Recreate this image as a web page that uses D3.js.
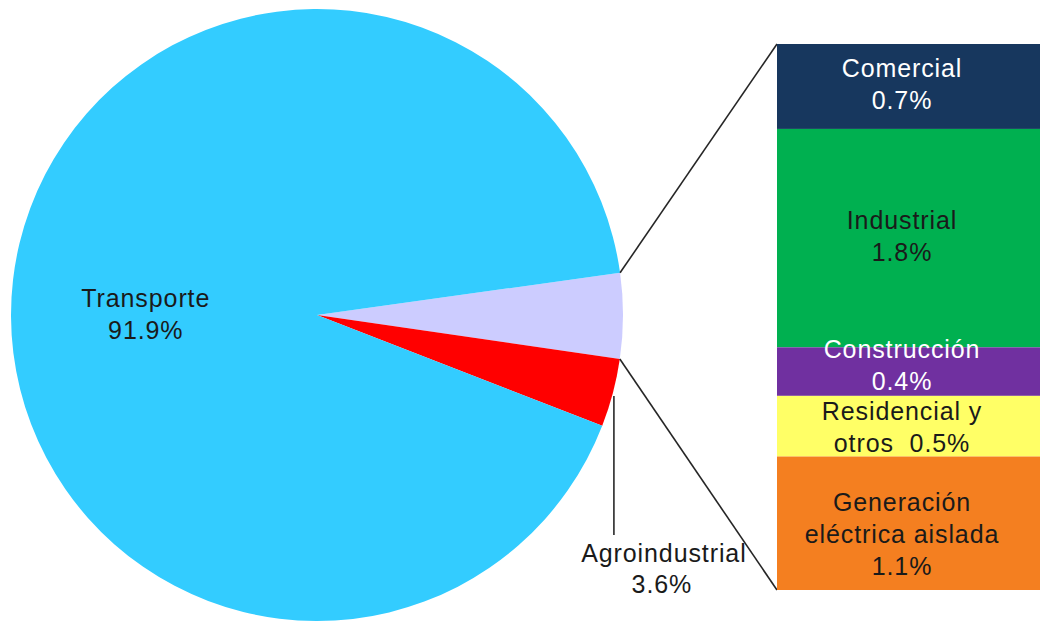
<!DOCTYPE html>
<html>
<head>
<meta charset="utf-8">
<script src="https://cdn.jsdelivr.net/npm/d3@7"></script>
<style>
  html, body { margin: 0; padding: 0; background: #fff; }
  svg { display: block; font-family: "Liberation Sans", Arial, sans-serif; }
  svg text { white-space: pre; letter-spacing: 0.9px; }
</style>
</head>
<body>
<svg id="chart" width="1040" height="621"></svg>
<script>
// Main pie: shares of total consumption (%)
const pieCategories = ["Otros sectores", "Agroindustrial", "Transporte"];
const transporteValue = 91.9;
const agroValue = 3.6;

// Breakdown of the "other sectors" wedge, shown as a stacked bar
const barCategories = ["Comercial", "Industrial", "Construcción", "Residencial y otros", "Generación eléctrica aislada"];
const barValues = [0.7, 1.8, 0.4, 0.5, 1.1];
const barLabelLines = [
  ["Comercial", "0.7%"],
  ["Industrial", "1.8%"],
  ["Construcción", "0.4%"],
  ["Residencial y", "otros  0.5%"],
  ["Generación", "eléctrica aislada", "1.1%"]
];
const barColors = ["#17375E", "#00B050", "#7030A0", "#FFFF66", "#F47F20"];
const barTextColors = ["#ffffff", "#1a1a1a", "#ffffff", "#1a1a1a", "#1a1a1a"];

const otherValue = d3.sum(barValues);
const pieValues = [otherValue, agroValue, transporteValue];
const pieColors = ["#CCCCFF", "#FF0000", "#33CCFF"];

const svg = d3.select("#chart");
const FS = 25;

// ---- pie ----
const cx = 317, cy = 315, radius = 306;
const startDeg = 82.07;
const pie = d3.pie().sort(null).value(d => d)
  .startAngle(startDeg * Math.PI / 180)
  .endAngle((startDeg + 360) * Math.PI / 180);
const arcs = pie(pieValues);
const arc = d3.arc().innerRadius(0).outerRadius(radius);

const gPie = svg.append("g").attr("transform", `translate(${cx},${cy})`);
gPie.selectAll("path").data(arcs).join("path")
  .attr("d", arc)
  .attr("fill", (d, i) => pieColors[i]);

const pt = (a, r) => [cx + r * Math.sin(a), cy - r * Math.cos(a)];

// Transporte label near the wedge's centroid
const labelArc = d3.arc().innerRadius(radius * 0.56).outerRadius(radius * 0.56);
const tc = labelArc.centroid(arcs[2]);
const tLabel = svg.append("text")
  .attr("text-anchor", "middle").attr("font-size", FS).attr("fill", "#1a1a1a");
["Transporte", transporteValue.toFixed(1) + "%"].forEach((s, i) => {
  tLabel.append("tspan").attr("x", cx + tc[0] - 1).attr("y", cy + tc[1] + 12 + i * 32).text(s);
});

// Agroindustrial leader + label
const agroMid = (arcs[1].startAngle + arcs[1].endAngle) / 2;
const leaderX = pt(agroMid, radius)[0] + 1;
svg.append("line")
  .attr("x1", leaderX).attr("x2", leaderX)
  .attr("y1", 396).attr("y2", 535)
  .attr("stroke", "#1a1a1a").attr("stroke-width", 1.5);
const aLabel = svg.append("text")
  .attr("text-anchor", "middle").attr("font-size", FS).attr("fill", "#1a1a1a");
["Agroindustrial", agroValue.toFixed(1) + "%"].forEach((s, i) => {
  aLabel.append("tspan").attr("x", leaderX + 50 - i * 2).attr("y", 562 + i * 31).text(s);
});

// ---- stacked bar ----
const barX = 777, barW = 263, barTop = 44, barBottom = 590;
const y = d3.scaleLinear().domain([0, otherValue]).range([barTop, barBottom]);
const cum = [];
barValues.reduce((acc, v, i) => { cum.push([acc, acc + v]); return acc + v; }, 0);

// connector lines from the wedge edges to the bar's corners
const pTop = pt(arcs[0].startAngle, radius);
const pBot = pt(arcs[0].endAngle, radius);
svg.append("line")
  .attr("x1", pTop[0]).attr("y1", pTop[1])
  .attr("x2", barX).attr("y2", y(0))
  .attr("stroke", "#262626").attr("stroke-width", 1.6);
svg.append("line")
  .attr("x1", pBot[0]).attr("y1", pBot[1])
  .attr("x2", barX).attr("y2", y(otherValue))
  .attr("stroke", "#262626").attr("stroke-width", 1.6);

// label blocks sit slightly off-centre in a few segments
const labelShift = [-2, -2, -7, 1, 11];
const textCenterX = barX + 125;
barValues.forEach((v, i) => {
  const y0 = y(cum[i][0]), y1 = y(cum[i][1]);
  svg.append("rect")
    .attr("x", barX).attr("y", y0)
    .attr("width", barW).attr("height", y1 - y0)
    .attr("fill", barColors[i]);
  const lines = barLabelLines[i];
  const mid = (y0 + y1) / 2;
  const t = svg.append("text")
    .attr("text-anchor", "middle").attr("font-size", FS)
    .attr("fill", barTextColors[i]);
  const firstBase = mid + 9 + labelShift[i] - (lines.length - 1) * 32 / 2;
  lines.forEach((s, j) => {
    t.append("tspan").attr("x", textCenterX).attr("y", firstBase + j * 32).text(s);
  });
});
</script>
</body>
</html>
